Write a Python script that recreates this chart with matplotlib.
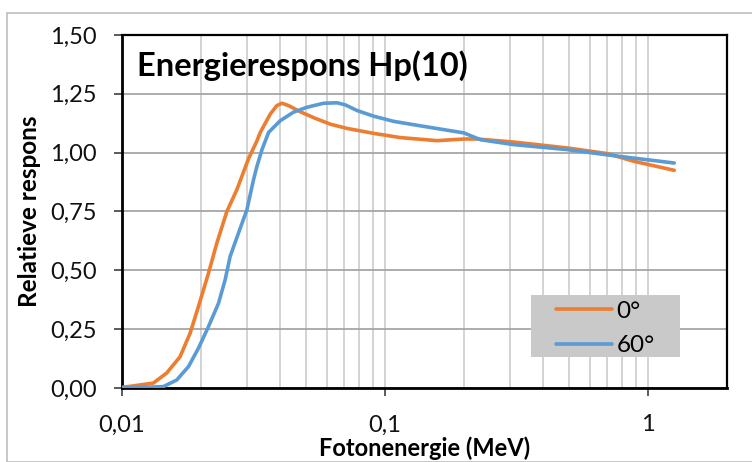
import numpy as np
import matplotlib as mpl
mpl.use('Agg')
import matplotlib.pyplot as plt
from matplotlib.patches import Rectangle
from matplotlib.ticker import FixedLocator, NullFormatter, LogLocator

plt.rcParams['font.family'] = ['Lato', 'DejaVu Sans']

# energies (MeV) and relative response
e0 = [0.01, 0.01073, 0.01316, 0.0148, 0.01663, 0.01816, 0.01953, 0.02133, 0.02295,
      0.02505, 0.02735, 0.0303, 0.0326, 0.03356, 0.03664, 0.0388, 0.0406, 0.043,
      0.0476, 0.0543, 0.062, 0.0718, 0.0906, 0.1146, 0.1365, 0.158, 0.1996,
      0.2245, 0.3097, 0.494, 0.702, 0.887, 1.26]
r0 = [0.003, 0.007, 0.021, 0.064, 0.133, 0.233, 0.346, 0.488, 0.616,
      0.75, 0.843, 0.975, 1.05, 1.086, 1.164, 1.20, 1.21, 1.20,
      1.174, 1.146, 1.121, 1.103, 1.082, 1.064, 1.057, 1.051, 1.058,
      1.058, 1.045, 1.020, 0.996, 0.963, 0.925]

e60 = [0.01, 0.01073, 0.01437, 0.01615, 0.0179, 0.01953, 0.02133, 0.02328, 0.02468,
       0.02578, 0.02773, 0.02985, 0.03164, 0.0326, 0.0341, 0.0361, 0.04, 0.0449,
       0.0505, 0.0585, 0.0658, 0.0707, 0.0784, 0.0906, 0.108, 0.1365, 0.1996,
       0.231, 0.3097, 0.494, 0.744, 1.26]
r60 = [0.0, 0.0, 0.006, 0.034, 0.091, 0.169, 0.261, 0.36, 0.46,
       0.559, 0.658, 0.757, 0.885, 0.942, 1.014, 1.086, 1.136, 1.172,
       1.193, 1.21, 1.212, 1.203, 1.179, 1.155, 1.133, 1.114, 1.084,
       1.055, 1.034, 1.013, 0.987, 0.956]

labels = ['0°', '60°']
yticks = [0, 0.25, 0.5, 0.75, 1.0, 1.25, 1.5]
xticks = [0.01, 0.1, 1]
xticklabels = ['0,01', '0,1', '1']

W, H = 752, 462
fig = plt.figure(figsize=(W/100, H/100), dpi=100)
ax = fig.add_axes([122/W, 1-388/H, (727-122)/W, (388-35)/H])

# outer chart border
fig.patches.append(Rectangle((7/W, 0), 1, 1-13/H, transform=fig.transFigure,
                             fill=False, ec='#bfbfbf', lw=1.2))

ax.plot(e0, r0, color='#ED7D31', lw=2.6, label=labels[0], zorder=3,
        solid_joinstyle='round', solid_capstyle='round')
ax.plot(e60, r60, color='#5B9BD5', lw=2.6, label=labels[1], zorder=3,
        solid_joinstyle='round', solid_capstyle='round')

ax.set_xscale('log')
ax.set_xlim(0.01, 2.0)
ax.set_ylim(0, 1.5)

ax.yaxis.set_major_locator(FixedLocator(yticks))
ax.set_yticklabels([('%.2f' % v).replace('.', ',') for v in yticks])
ax.xaxis.set_major_locator(FixedLocator(xticks))
ax.set_xticklabels(xticklabels)
ax.xaxis.set_minor_locator(LogLocator(base=10, subs=np.arange(2, 10)))
ax.xaxis.set_minor_formatter(NullFormatter())

ax.grid(axis='y', which='major', color='#a6a6a6', lw=1.3, zorder=0)
ax.grid(axis='x', which='both', color='#d0d0d0', lw=1.3, zorder=0)
ax.set_axisbelow(True)

ax.tick_params(axis='both', which='major', length=6, width=1.2, color='#404040',
               labelsize=17, labelcolor='#111111')
ax.tick_params(axis='x', which='major', pad=13)
ax.tick_params(axis='y', which='major', pad=12)
ax.tick_params(axis='x', which='minor', length=0)

for s in ax.spines.values():
    s.set_color('black')
    s.set_linewidth(1.6)
ax.spines['left'].set_linewidth(2.0)
ax.spines['bottom'].set_linewidth(2.0)

ax.set_xlabel('Fotonenergie (MeV)', fontsize=17, fontweight='bold')
ax.set_ylabel('Relatieve respons', fontsize=17.5, fontweight='bold')
ax.xaxis.set_label_coords(0.5, (388-436)/(388-35), transform=ax.transAxes)
ax.yaxis.set_label_coords((41-122)/(727-122), 0.5, transform=ax.transAxes)

fig.text(137/W, 1-76/H, 'Energierespons Hp(10)', fontsize=23.5, fontweight='bold',
         va='baseline', ha='left')

# legend box
ax.add_patch(Rectangle((531/W, 1-357/H), 149/W, 62/H, transform=fig.transFigure,
                       fc='#c9c9c9', ec='none', zorder=4))
leg = ax.legend(loc='upper left', bbox_to_anchor=(551/W, 1-296/H),
                bbox_transform=fig.transFigure, frameon=False, fontsize=17.5,
                handlelength=2.3, handletextpad=0.2, labelspacing=0.55,
                borderpad=0.2, borderaxespad=0)
leg.set_zorder(5)

plt.savefig('out.png', dpi=100)
plt.close()
